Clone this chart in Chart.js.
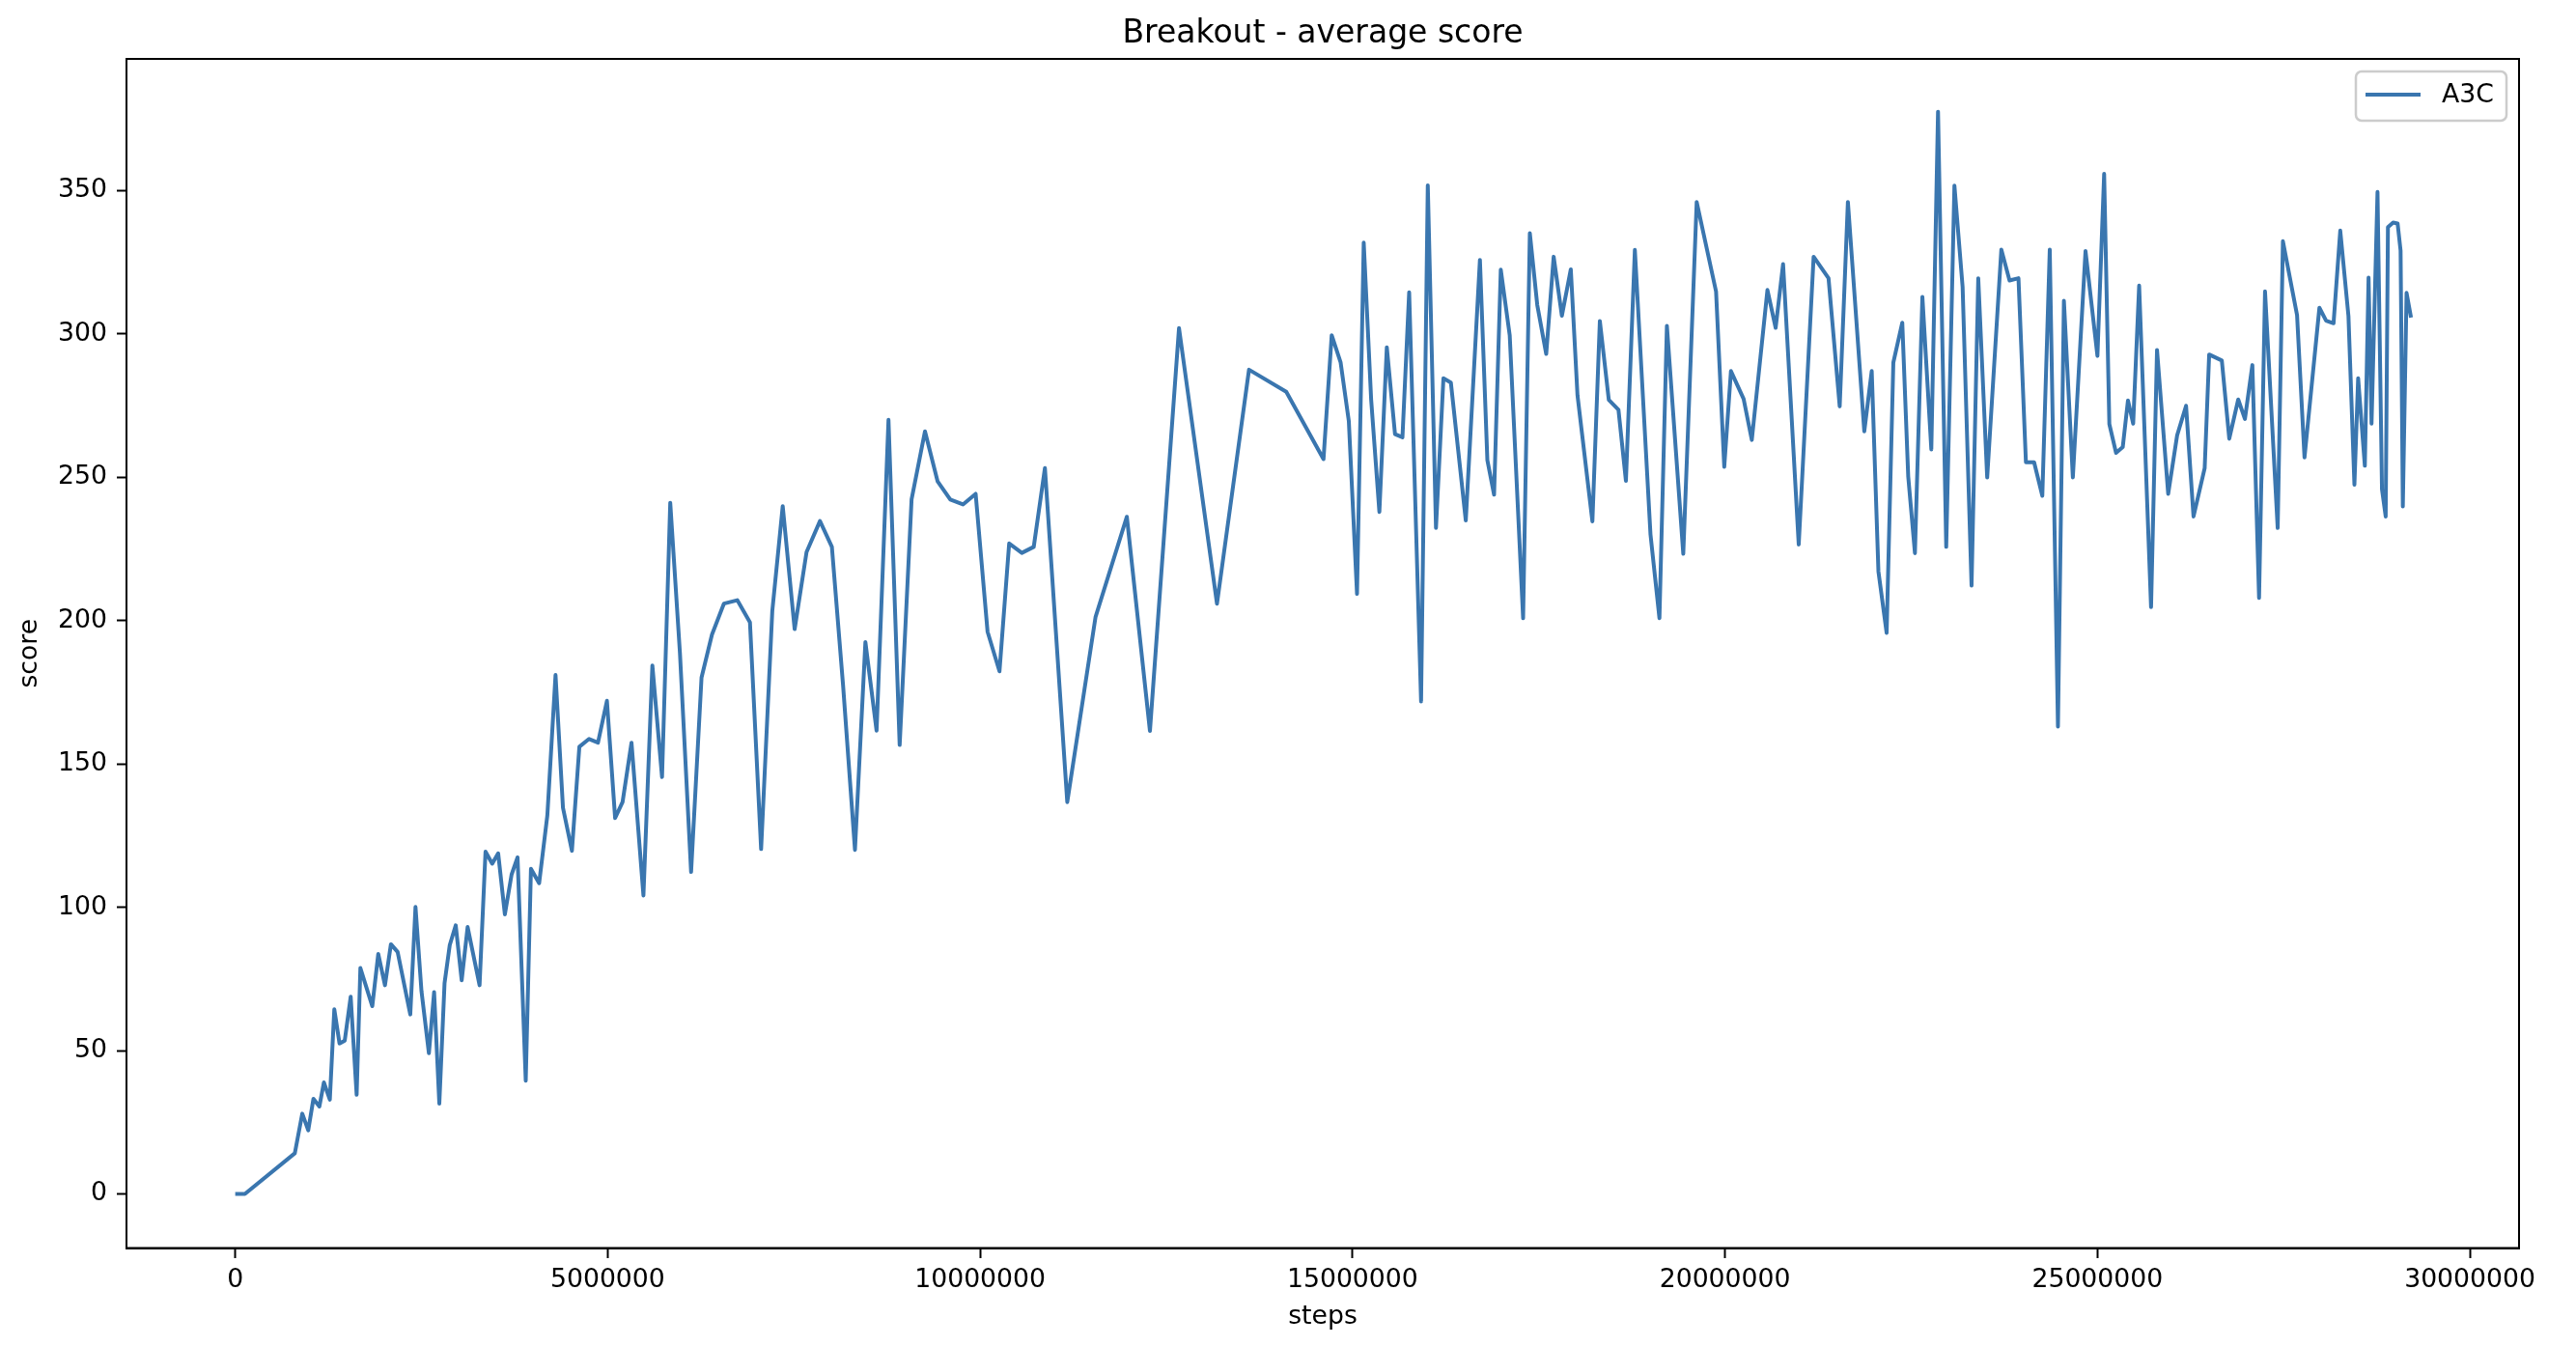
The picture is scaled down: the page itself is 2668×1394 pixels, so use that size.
<!DOCTYPE html>
<html>
<head>
<meta charset="utf-8">
<script src="https://cdn.jsdelivr.net/npm/chart.js@4.4.0/dist/chart.umd.min.js"></script>
<style>
  html, body { margin: 0; padding: 0; background: #fff; }
  canvas { display: block; }
</style>
</head>
<body>
<canvas id="chart" width="2668" height="1394"></canvas>
<script>
// Training steps and the average score logged at each one
const steps = [
    0, 130000, 800000, 900000, 980000, 1050000, 1130000, 1190000, 1270000, 1330000,
    1400000, 1470000, 1550000, 1630000, 1680000, 1840000, 1920000, 2010000, 2090000, 2180000,
    2350000, 2420000, 2500000, 2600000, 2670000, 2740000, 2810000, 2880000, 2960000, 3040000,
    3120000, 3280000, 3360000, 3450000, 3530000, 3620000, 3710000, 3790000, 3900000, 3970000,
    4080000, 4190000, 4300000, 4400000, 4520000, 4620000, 4750000, 4870000, 4990000, 5100000,
    5200000, 5320000, 5480000, 5600000, 5730000, 5840000, 5970000, 6120000, 6260000, 6400000,
    6560000, 6740000, 6910000, 7060000, 7210000, 7350000, 7510000, 7670000, 7850000, 8010000,
    8160000, 8320000, 8460000, 8610000, 8770000, 8920000, 9080000, 9260000, 9430000, 9600000,
    9770000, 9940000, 10100000, 10260000, 10390000, 10560000, 10720000, 10870000, 11170000, 11550000,
    11970000, 12280000, 12670000, 13180000, 13610000, 14110000, 14610000, 14720000, 14840000, 14950000,
    15060000, 15150000, 15250000, 15360000, 15460000, 15570000, 15670000, 15760000, 15920000, 16010000,
    16120000, 16220000, 16320000, 16520000, 16710000, 16810000, 16900000, 16990000, 17110000, 17290000,
    17380000, 17480000, 17600000, 17700000, 17810000, 17930000, 18020000, 18220000, 18320000, 18440000,
    18570000, 18670000, 18790000, 19000000, 19120000, 19220000, 19440000, 19620000, 19880000, 19990000,
    20080000, 20250000, 20360000, 20570000, 20680000, 20780000, 20990000, 21190000, 21390000, 21540000,
    21650000, 21870000, 21970000, 22060000, 22170000, 22260000, 22380000, 22460000, 22550000, 22650000,
    22770000, 22860000, 22970000, 23080000, 23190000, 23310000, 23400000, 23520000, 23710000, 23820000,
    23940000, 24040000, 24150000, 24260000, 24360000, 24470000, 24550000, 24670000, 24840000, 25000000,
    25090000, 25160000, 25250000, 25340000, 25410000, 25480000, 25560000, 25720000, 25800000, 25950000,
    26070000, 26190000, 26290000, 26440000, 26500000, 26670000, 26770000, 26890000, 26980000, 27080000,
    27170000, 27250000, 27420000, 27490000, 27680000, 27780000, 27980000, 28070000, 28170000, 28260000,
    28370000, 28450000, 28500000, 28590000, 28640000, 28680000, 28760000, 28820000, 28870000, 28900000,
    28970000, 29030000, 29070000, 29100000, 29150000, 29210000
];

const scores = [
    0, 0, 14.2, 28, 22.2, 33.2, 30.5, 38.9, 32.9, 64.4,
    52.5, 53.5, 68.8, 34.6, 78.8, 65.5, 83.7, 72.8, 87.1, 84.4,
    62.6, 100.1, 70.8, 49.1, 70.4, 31.5, 73.5, 86.8, 93.7, 74.5,
    93.1, 72.8, 119.4, 115.2, 118.8, 97.5, 111.4, 117.4, 39.5, 113.4,
    108.4, 132, 181, 134.7, 119.7, 156, 158.7, 157.4, 172, 131.1,
    136.7, 157.4, 104.1, 184.3, 145.4, 241.1, 188.7, 112.3, 180.1, 195.1,
    205.9, 207.1, 199.4, 120.3, 203.3, 239.9, 197, 223.9, 234.7, 225.7,
    177.5, 120, 192.5, 161.6, 270, 156.6, 242.3, 266, 248.5, 242.2,
    240.5, 244.2, 196.1, 182.3, 226.9, 223.6, 225.7, 253.2, 136.7, 201.3,
    236.2, 161.5, 302, 205.9, 287.5, 279.8, 256.3, 299.5, 290, 269.5,
    209.3, 331.8, 277, 237.9, 295.3, 265, 263.9, 314.5, 171.8, 351.8,
    232.3, 284.5, 283, 234.9, 325.8, 255.9, 243.9, 322.4, 299.5, 200.8,
    335.1, 310, 293, 326.9, 306.3, 322.5, 278.5, 234.6, 304.5, 277,
    273.5, 248.7, 329.3, 230, 200.8, 302.8, 223.3, 346, 314.8, 253.6,
    287, 277.3, 263, 315.3, 302.1, 324.3, 226.5, 326.9, 319.4, 274.7,
    346, 266, 287, 217.1, 195.7, 290, 303.9, 250.2, 223.5, 312.9,
    259.7, 377.5, 225.7, 351.7, 316.4, 212.2, 319.4, 249.9, 329.4, 318.6,
    319.4, 255.2, 255.2, 243.5, 329.4, 163, 311.5, 249.9, 328.9, 292.3,
    355.8, 268.5, 258.5, 260.5, 276.8, 268.7, 316.8, 204.7, 294.4, 244.2,
    264.6, 274.9, 236.3, 253.2, 292.8, 290.7, 263.4, 277.1, 270.3, 289.1,
    207.9, 314.8, 232.3, 332.3, 306.5, 256.9, 309.1, 304.6, 303.7, 336,
    306.2, 247.4, 284.5, 254, 319.6, 268.7, 349.5, 245.8, 236.3, 337.2,
    338.8, 338.5, 329, 239.8, 314.3, 305.7
];

// Tick labels on each axis
const xTicks = [0, 5000000, 10000000, 15000000, 20000000, 25000000, 30000000];
const yTicks = [0, 50, 100, 150, 200, 250, 300, 350];

const lineColor = '#3a76af';
const fontFamily = "'DejaVu Sans', sans-serif";
const tickFont = { family: fontFamily, size: 26.7 };

Chart.defaults.font.family = fontFamily;
Chart.defaults.color = '#000';

// Draws the box around the plot and the matplotlib-style legend
const framePlugin = {
    id: 'frame',
    afterDatasetsDraw(chart) {
        const { ctx, chartArea: a } = chart;
        ctx.save();
        ctx.strokeStyle = '#000';
        ctx.lineWidth = 2;
        ctx.strokeRect(a.left, a.top, a.right - a.left, a.bottom - a.top);

        // legend box, upper right
        const w = 156, h = 51;
        const bx = a.right - 13 - w, by = a.top + 13;
        ctx.beginPath();
        ctx.roundRect(bx, by, w, h, 6);
        ctx.fillStyle = 'rgba(255,255,255,0.8)';
        ctx.fill();
        ctx.strokeStyle = '#cccccc';
        ctx.lineWidth = 2.5;
        ctx.stroke();

        ctx.beginPath();
        ctx.moveTo(bx + 10, by + 24);
        ctx.lineTo(bx + 67, by + 24);
        ctx.strokeStyle = lineColor;
        ctx.lineWidth = 4;
        ctx.stroke();

        ctx.fillStyle = '#000';
        ctx.font = '26.7px ' + fontFamily;
        ctx.textBaseline = 'middle';
        ctx.fillText(chart.data.datasets[0].label, bx + 89, by + 25);
        ctx.restore();
    }
};

const ctx = document.getElementById('chart').getContext('2d');
const chart = new Chart(ctx, {
    type: 'line',
    data: {
        datasets: [{
            label: 'A3C',
            data: steps.map((s, i) => ({ x: s, y: scores[i] })),
            borderColor: lineColor,
            borderWidth: 4,
            borderJoinStyle: 'round',
            pointRadius: 0,
            tension: 0,
            fill: false,
        }],
    },
    options: {
        responsive: false,
        animation: false,
        devicePixelRatio: 1,
        layout: { padding: { top: 0, right: 59, bottom: 0, left: 0 } },
        plugins: {
            legend: { display: false },
            tooltip: { enabled: false },
            title: {
                display: true,
                text: 'Breakout - average score',
                fullSize: false,
                color: '#000',
                font: { family: fontFamily, size: 33, weight: 'normal' },
                padding: { top: 16, bottom: 5.4 },
            },
        },
        scales: {
            x: {
                type: 'linear',
                min: -1460000,
                max: 30660000,
                afterBuildTicks: (scale) => { scale.ticks = xTicks.map(v => ({ value: v })); },
                afterFit: (scale) => { scale.height = 101.5; },
                ticks: {
                    font: tickFont,
                    color: '#000',
                    padding: 7,
                    autoSkip: false,
                    maxRotation: 0,
                    callback: (v) => String(Math.round(v)),
                },
                grid: { drawOnChartArea: false, drawTicks: true, tickLength: 10.5, tickWidth: 2, tickColor: '#000' },
                border: { display: true, color: '#000', width: 2 },
                title: { display: true, text: 'steps', font: tickFont, color: '#000', padding: { top: 0, bottom: 14 } },
            },
            y: {
                type: 'linear',
                min: -18.85,
                max: 395.9,
                afterBuildTicks: (scale) => { scale.ticks = yTicks.map(v => ({ value: v })); },
                afterFit: (scale) => { scale.width = 131; },
                ticks: {
                    font: tickFont,
                    color: '#000',
                    padding: 10,
                    autoSkip: false,
                    callback: (v) => String(Math.round(v)),
                },
                grid: { drawOnChartArea: false, drawTicks: true, tickLength: 10, tickWidth: 2, tickColor: '#000' },
                border: { display: true, color: '#000', width: 2 },
                title: { display: true, text: 'score', font: tickFont, color: '#000', padding: { top: 15, bottom: 0 } },
            },
        },
    },
    plugins: [framePlugin],
});
</script>
</body>
</html>
